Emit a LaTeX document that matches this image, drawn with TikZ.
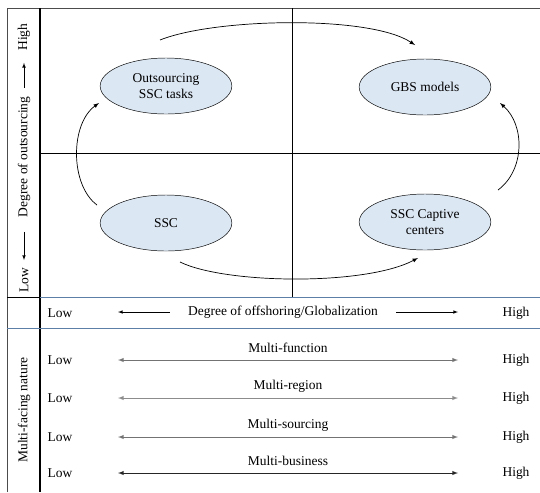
\documentclass[tikz,border=0pt]{standalone}
\usepackage{fontspec}
\setmainfont{Liberation Serif}
\usepackage{xcolor}
\usetikzlibrary{shapes.geometric}

\definecolor{ovalfill}{HTML}{DCE7F4}
\definecolor{rulecol}{HTML}{5B7FA6}

\begin{document}
\begin{tikzpicture}[x=0.03cm,y=-0.03cm,font=\fontsize{11.5}{13.5}\selectfont,
  stage/.style={ellipse,draw,fill=ovalfill,minimum width=3.95cm,minimum height=1.68cm,align=center,inner sep=0pt},
  flow/.style={-latex,semithick}]
\useasboundingbox (0,0) rectangle (540,492);

% frame and quadrants
\draw[black!70,line width=0.8pt] (7,492) -- (7,8) -- (540,8);
\draw[line width=1pt] (40,8) -- (40,492);
\draw (40,153) -- (540,153);
\draw (292,8) -- (292,297);
\draw[line width=0.8pt] (7,297) -- (40,297);
\draw[rulecol,line width=0.8pt] (40,297) -- (540,297);
\draw[rulecol,line width=0.8pt] (7,328) -- (540,328);

% the four stages
\node[stage] (outs) at (166,86) {Outsourcing\\SSC tasks};
\node[stage] (gbs) at (425,87) {GBS models};
\node[stage] (ssc) at (166,223) {SSC};
\node[stage] (capt) at (425,222) {SSC Captive\\centers};

\draw[flow] ([shift={(-6,-46)}]outs.center) .. controls +(55,-22) and +(-45,-30) .. ([shift={(-10,-42)}]gbs.center);
\draw[flow] ([shift={(14,39)}]ssc.center) .. controls +(45,22) and +(-53,28) .. ([shift={(-7,36)}]capt.center);
\draw[flow] ([shift={(-69,-18)}]ssc.center) .. controls +(-27,-20) and +(-29,21) .. ([shift={(-67,17)}]outs.center);
\draw[flow] ([shift={(73,-32)}]capt.center) .. controls +(27,-20) and +(25,22) .. ([shift={(75,16)}]gbs.center);

% vertical axis
\node[rotate=90] (hi) at (24,37) {High};
\node[rotate=90] (dego) at (24,157) {Degree of outsourcing};
\node[rotate=90] (lo) at (24,280) {Low};
\draw[-latex,shorten <=4pt,shorten >=7pt] (dego) -- (hi);
\draw[-latex,shorten <=9pt,shorten >=3pt] (dego) -- (lo);

% horizontal axis
\node (low0) at (60,313) {Low};
\node (deg) at (283,312) {Degree of offshoring/Globalization};
\node (high0) at (516,313) {High};
\coordinate (l0) at (118,312);
\coordinate (r0) at (458,312);
\draw[-latex] ([xshift=-12pt]deg.west) -- (l0);
\draw[-latex] ([xshift=12pt]deg.east) -- (r0);

% multi-facing nature
\node[rotate=90] (multi) at (24,410) {Multi-facing nature};
\foreach \lab/\y/\c [count=\i] in {Multi-function/360/black!55,Multi-region/398/black!45,Multi-sourcing/437/black!55,Multi-business/473/black!85}
{
  \node (low\i) at (60,\y) {Low};
  \node (high\i) at (516,\y) {High};
  \node (lab\i) at (288,\y-12) {\lab};
  \coordinate (l\i) at (118,\y);
  \coordinate (r\i) at (458,\y);
  \draw[latex-latex,\c,line width=0.7pt] (l\i) -- (r\i);
}
\end{tikzpicture}
\end{document}
